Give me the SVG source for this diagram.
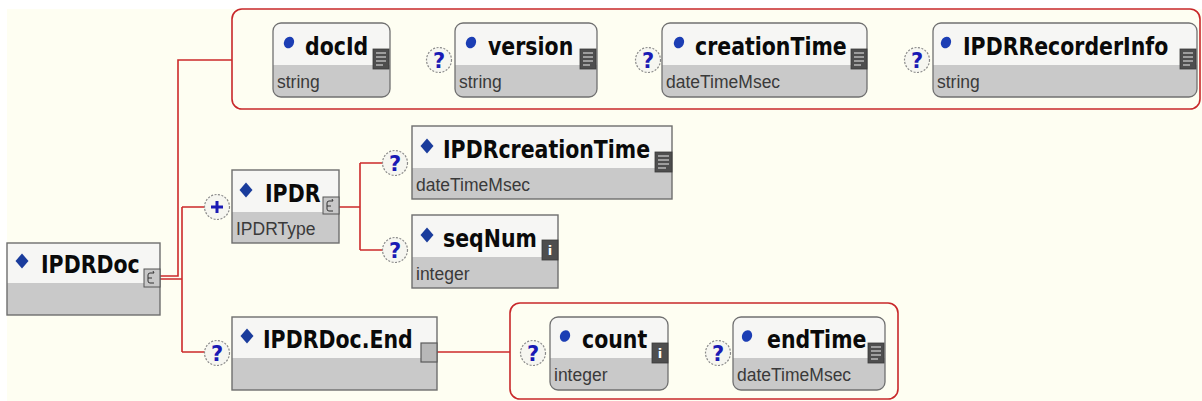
<svg xmlns="http://www.w3.org/2000/svg" width="1202" height="401" viewBox="0 0 1202 401">
<defs>
<style>
.bg{fill:#fefef2}
.cont{fill:none;stroke:#c8282a;stroke-width:1.6}
.conn{fill:none;stroke:#cc2a2a;stroke-width:1.6}
.hdr{fill:#f6f6f4}
.low{fill:#c9c9c9}
.bord{fill:none;stroke:#6e6e6e;stroke-width:1.4}
.rb{fill:none;stroke:#707070;stroke-width:1.3}
.name{font-family:"DejaVu Sans",Verdana,sans-serif;font-weight:bold;font-size:20.5px;fill:#0a0a0a}
.type{font-family:"Liberation Sans",Arial,sans-serif;font-size:17.5px;fill:#3a3a3a}
.dot{fill:#1c3eb4}
.dia{fill:#1a3c9c}
.oc{fill:#f6f6f0;stroke:#8a8a8a;stroke-width:1.2;stroke-dasharray:2 1.5}
.oq{font-family:"DejaVu Sans",Verdana,sans-serif;font-weight:bold;font-size:21px;fill:#1a1ab4;text-anchor:middle}
.icd{fill:#4e4e4e;stroke:#3a3a3a;stroke-width:0.8}
.icl{stroke:#b8b8b8;stroke-width:1.6}
.ici{fill:#fff;font-family:"DejaVu Sans",sans-serif;font-weight:bold;font-size:13px;text-anchor:middle}
.icc{fill:#c8c8c8;stroke:#555;stroke-width:1}
.ics{fill:none;stroke:#333;stroke-width:1}
</style>
</defs>
<rect x="0" y="0" width="1202" height="401" fill="#ffffff"/>
<rect class="bg" x="7" y="9" width="1195" height="392"/>

<g id="connectors">
<rect class="cont" x="232" y="9" width="968" height="100" rx="10"/>
<rect class="cont" x="510" y="303" width="388" height="96" rx="10"/>
<path class="conn" d="M160,276 H178 V60 H232"/>
<path class="conn" d="M160,279 H182 M182,207 V352 M182,207 H205 M182,352 H205"/>
<path class="conn" d="M339,207 H360 M360,163 V250 M360,163 H383 M360,250 H383"/>
<path class="conn" d="M437,352 H510"/>
</g>

<!-- IPDRDoc -->
<g id="IPDRDoc">
<rect class="hdr" x="7" y="243" width="153" height="40"/>
<rect class="low" x="7" y="283" width="153" height="32"/>
<rect class="bord" x="7" y="243" width="153" height="72"/>
<polygon class="dia" points="22,253.5 28.5,261 22,268.5 15.5,261"/>
<text class="name" transform="translate(41 272.5) scale(1 1.18)">IPDRDoc</text>
<rect class="icc" x="144" y="269" width="16" height="18"/>
<path class="ics" d="M154,273 h-4 q-2,0 -2,2 v6 q0,2 2,2 h4 M148,278 h4 M153,271 l1,2"/>
</g>

<!-- plus circle -->
<g id="seq-IPDR">
<circle class="oc" cx="217" cy="207" r="12.5"/>
<path d="M211,207 H223 M217,201 V213" stroke="#1a1ab4" stroke-width="3"/>
</g>

<!-- IPDR -->
<g id="IPDR">
<rect class="hdr" x="232" y="170" width="107" height="42"/>
<rect class="low" x="232" y="212" width="107" height="31"/>
<rect class="bord" x="232" y="170" width="107" height="73"/>
<polygon class="dia" points="246,182.5 252.5,190 246,197.5 239.5,190"/>
<text class="name" transform="translate(265 201.5) scale(1 1.18)">IPDR</text>
<text class="type" x="236" y="235">IPDRType</text>
<rect class="icc" x="323" y="197" width="16" height="17"/>
<path class="ics" d="M333,201 h-4 q-2,0 -2,2 v6 q0,2 2,2 h4 M327,206 h4 M332,199 l1,2"/>
</g>

<!-- IPDRcreationTime -->
<g id="IPDRcreationTime">
<circle class="oc" cx="395" cy="163" r="12.5"/>
<text class="oq" x="395" y="170.5">?</text>
<rect class="hdr" x="412" y="126" width="260" height="42"/>
<rect class="low" x="412" y="168" width="260" height="31"/>
<rect class="bord" x="412" y="126" width="260" height="73"/>
<polygon class="dia" points="427,138.5 433.5,146 427,153.5 420.5,146"/>
<text class="name" transform="translate(443 157.5) scale(1 1.18)">IPDRcreationTime</text>
<text class="type" x="416" y="191">dateTimeMsec</text>
<rect class="icd" x="655" y="152" width="17" height="20"/>
<path class="icl" d="M658,156 h11 M658,160 h11 M658,164 h11 M658,168 h8"/>
</g>

<!-- seqNum -->
<g id="seqNum">
<circle class="oc" cx="395" cy="250" r="12.5"/>
<text class="oq" x="395" y="257.5">?</text>
<rect class="hdr" x="412" y="215" width="146" height="42"/>
<rect class="low" x="412" y="257" width="146" height="31"/>
<rect class="bord" x="412" y="215" width="146" height="73"/>
<polygon class="dia" points="427,227.5 433.5,235 427,242.5 420.5,235"/>
<text class="name" transform="translate(443 246.5) scale(1 1.18)">seqNum</text>
<text class="type" x="416" y="280">integer</text>
<rect class="icd" x="542" y="240" width="16" height="20"/>
<text class="ici" x="550" y="255">i</text>
</g>

<!-- IPDRDoc.End -->
<g id="IPDRDoc.End">
<circle class="oc" cx="217" cy="353" r="12.5"/>
<text class="oq" x="217" y="360.5">?</text>
<rect class="hdr" x="232" y="317" width="205" height="41"/>
<rect class="low" x="232" y="358" width="205" height="32"/>
<rect class="bord" x="232" y="317" width="205" height="73"/>
<polygon class="dia" points="247,328.5 253.5,336 247,343.5 240.5,336"/>
<text class="name" transform="translate(263 347.5) scale(1 1.18)">IPDRDoc.End</text>
<rect x="421" y="343" width="16" height="19" fill="#b8b8b8" stroke="#5a5a5a" stroke-width="1.2"/>
</g>

<!-- docId -->
<g id="docId">
<rect class="low" x="273" y="23" width="117" height="74" rx="8"/>
<path class="hdr" d="M273,65 V31 a8,8 0 0 1 8,-8 H382 a8,8 0 0 1 8,8 V65 Z"/>
<rect class="rb" x="273" y="23" width="117" height="74" rx="8"/>
<ellipse class="dot" cx="289" cy="42.5" rx="5" ry="6" transform="rotate(25 289 42.5)"/>
<text class="name" transform="translate(305 54.5) scale(1 1.18)">docId</text>
<text class="type" x="277" y="88">string</text>
<rect class="icd" x="373" y="49" width="16" height="20"/>
<path class="icl" d="M376,53 h10 M376,57 h10 M376,61 h10 M376,65 h7"/>
</g>

<!-- version -->
<g id="version">
<circle class="oc" cx="439" cy="60" r="12.5"/>
<text class="oq" x="439" y="67.5">?</text>
<rect class="low" x="455" y="23" width="142" height="74" rx="8"/>
<path class="hdr" d="M455,65 V31 a8,8 0 0 1 8,-8 H589 a8,8 0 0 1 8,8 V65 Z"/>
<rect class="rb" x="455" y="23" width="142" height="74" rx="8"/>
<ellipse class="dot" cx="471" cy="42.5" rx="5" ry="6" transform="rotate(25 471 42.5)"/>
<text class="name" transform="translate(488 54.5) scale(1 1.18)">version</text>
<text class="type" x="459" y="88">string</text>
<rect class="icd" x="580" y="49" width="16" height="20"/>
<path class="icl" d="M583,53 h10 M583,57 h10 M583,61 h10 M583,65 h7"/>
</g>

<!-- creationTime -->
<g id="creationTime">
<circle class="oc" cx="648" cy="60" r="12.5"/>
<text class="oq" x="648" y="67.5">?</text>
<rect class="low" x="662" y="23" width="205" height="74" rx="8"/>
<path class="hdr" d="M662,65 V31 a8,8 0 0 1 8,-8 H859 a8,8 0 0 1 8,8 V65 Z"/>
<rect class="rb" x="662" y="23" width="205" height="74" rx="8"/>
<ellipse class="dot" cx="679" cy="42.5" rx="5" ry="6" transform="rotate(25 679 42.5)"/>
<text class="name" transform="translate(695 54.5) scale(1 1.18)">creationTime</text>
<text class="type" x="666" y="88">dateTimeMsec</text>
<rect class="icd" x="851" y="49" width="16" height="20"/>
<path class="icl" d="M854,53 h10 M854,57 h10 M854,61 h10 M854,65 h7"/>
</g>

<!-- IPDRRecorderInfo -->
<g id="IPDRRecorderInfo">
<circle class="oc" cx="917" cy="60" r="12.5"/>
<text class="oq" x="917" y="67.5">?</text>
<rect class="low" x="933" y="23" width="264" height="74" rx="8"/>
<path class="hdr" d="M933,65 V31 a8,8 0 0 1 8,-8 H1189 a8,8 0 0 1 8,8 V65 Z"/>
<rect class="rb" x="933" y="23" width="264" height="74" rx="8"/>
<ellipse class="dot" cx="946" cy="42.5" rx="5" ry="6" transform="rotate(25 946 42.5)"/>
<text class="name" transform="translate(963 54.5) scale(1 1.18)">IPDRRecorderInfo</text>
<text class="type" x="937" y="88">string</text>
<rect class="icd" x="1180" y="49" width="16" height="20"/>
<path class="icl" d="M1183,53 h10 M1183,57 h10 M1183,61 h10 M1183,65 h7"/>
</g>

<!-- count -->
<g id="count">
<circle class="oc" cx="533" cy="353" r="12.5"/>
<text class="oq" x="533" y="360.5">?</text>
<rect class="low" x="550" y="317" width="118" height="73" rx="8"/>
<path class="hdr" d="M550,358 V325 a8,8 0 0 1 8,-8 H660 a8,8 0 0 1 8,8 V358 Z"/>
<rect class="rb" x="550" y="317" width="118" height="73" rx="8"/>
<ellipse class="dot" cx="565" cy="336" rx="5" ry="6" transform="rotate(25 565 336)"/>
<text class="name" transform="translate(582 347.5) scale(1 1.18)">count</text>
<text class="type" x="554" y="381">integer</text>
<rect class="icd" x="652" y="343" width="16" height="20"/>
<text class="ici" x="660" y="358">i</text>
</g>

<!-- endTime -->
<g id="endTime">
<circle class="oc" cx="718" cy="353" r="12.5"/>
<text class="oq" x="718" y="360.5">?</text>
<rect class="low" x="733" y="317" width="152" height="73" rx="8"/>
<path class="hdr" d="M733,358 V325 a8,8 0 0 1 8,-8 H877 a8,8 0 0 1 8,8 V358 Z"/>
<rect class="rb" x="733" y="317" width="152" height="73" rx="8"/>
<ellipse class="dot" cx="747" cy="336" rx="5" ry="6" transform="rotate(25 747 336)"/>
<text class="name" transform="translate(767 347.5) scale(1 1.18)">endTime</text>
<text class="type" x="737" y="381">dateTimeMsec</text>
<rect class="icd" x="868" y="343" width="16" height="20"/>
<path class="icl" d="M871,347 h10 M871,351 h10 M871,355 h10 M871,359 h7"/>
</g>
</svg>
